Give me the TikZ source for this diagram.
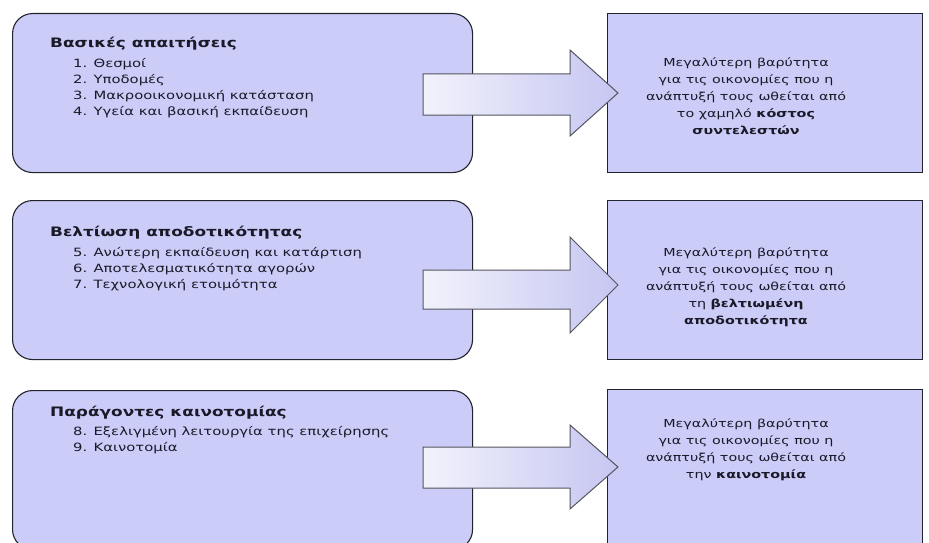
\documentclass[tikz,border=0pt]{standalone}
\usepackage{fontspec}
\setmainfont[FakeStretch=1.3]{DejaVu Sans}
\definecolor{boxfill}{RGB}{204,204,248}
\definecolor{edgecol}{RGB}{35,35,45}
\definecolor{arrowedge}{RGB}{85,85,95}
\definecolor{arrowleft}{RGB}{242,242,252}
\definecolor{arrowright}{RGB}{198,198,242}
\definecolor{txt}{RGB}{25,25,40}
\newcommand{\ttl}[1]{\rule{0pt}{10pt}{\fontsize{13}{16}\selectfont\textbf{#1}}}
\begin{document}
\begin{tikzpicture}[x=1pt,y=-1pt,
  leftbox/.style={draw=edgecol, line width=1.1pt, fill=boxfill, rounded corners=20pt, anchor=north west, minimum width=460pt, minimum height=159pt, inner sep=0pt},
  rightbox/.style={draw=edgecol, line width=1.1pt, fill=boxfill, anchor=north west, minimum width=315pt, minimum height=159pt, inner sep=0pt},
  lefttext/.style={anchor=north west, align=left, inner sep=0pt, text=txt, font=\fontsize{11.4}{16}\selectfont},
  righttext/.style={anchor=north, align=center, inner sep=0pt, text=txt, font=\fontsize{11}{17}\selectfont},
  blockarrow/.style={draw=arrowedge, line width=1pt, left color=arrowleft, right color=arrowright, line join=miter}
]
\useasboundingbox (0,0) rectangle (929,543);
\fill[white] (0,0) rectangle (929,543);

% Row 1
\node[leftbox] (l1) at (12,13) {};
\node[rightbox] (r1) at (607,13) {};
\node[lefttext] (lt1) at (50,37) {\ttl{Βασικές απαιτήσεις}\\[4pt]
  \hspace*{23pt}1. Θεσμοί\\
  \hspace*{23pt}2. Υποδομές\\
  \hspace*{23pt}3. Μακροοικονομική κατάσταση\\
  \hspace*{23pt}4. Υγεία και βασική εκπαίδευση};
\node[righttext] (rt1) at (746,56) {\rule{0pt}{10pt}Μεγαλύτερη βαρύτητα\\
  για τις οικονομίες που η\\
  ανάπτυξή τους ωθείται από\\
  το χαμηλό \textbf{κόστος}\\
  \textbf{συντελεστών}};
\draw[blockarrow] (423,74) -- (570,74) -- (570,50) -- (618,93) -- (570,136) -- (570,115) -- (423,115) -- cycle;

% Row 2
\node[leftbox] (l2) at (12,200) {};
\node[rightbox] (r2) at (607,200) {};
\node[lefttext] (lt2) at (50,226) {\ttl{Βελτίωση αποδοτικότητας}\\[4pt]
  \hspace*{23pt}5. Ανώτερη εκπαίδευση και κατάρτιση\\
  \hspace*{23pt}6. Αποτελεσματικότητα αγορών\\
  \hspace*{23pt}7. Τεχνολογική ετοιμότητα};
\node[righttext] (rt2) at (746,246) {\rule{0pt}{10pt}Μεγαλύτερη βαρύτητα\\
  για τις οικονομίες που η\\
  ανάπτυξή τους ωθείται από\\
  τη \textbf{βελτιωμένη}\\
  \textbf{αποδοτικότητα}};
\draw[blockarrow] (423,270) -- (570,270) -- (570,237) -- (618,285) -- (570,333) -- (570,309) -- (423,309) -- cycle;

% Row 3
\node[leftbox] (l3) at (12,390) {};
\node[rightbox] (r3) at (607,389) {};
\node[lefttext] (lt3) at (50,406) {\ttl{Παράγοντες καινοτομίας}\\[3pt]
  \hspace*{23pt}8. Εξελιγμένη λειτουργία της επιχείρησης\\
  \hspace*{23pt}9. Καινοτομία};
\node[righttext] (rt3) at (746,417) {\rule{0pt}{10pt}Μεγαλύτερη βαρύτητα\\
  για τις οικονομίες που η\\
  ανάπτυξή τους ωθείται από\\
  την \textbf{καινοτομία}};
\draw[blockarrow] (423,447) -- (570,447) -- (570,425) -- (618,467) -- (570,509) -- (570,488) -- (423,488) -- cycle;
\end{tikzpicture}
\end{document}
